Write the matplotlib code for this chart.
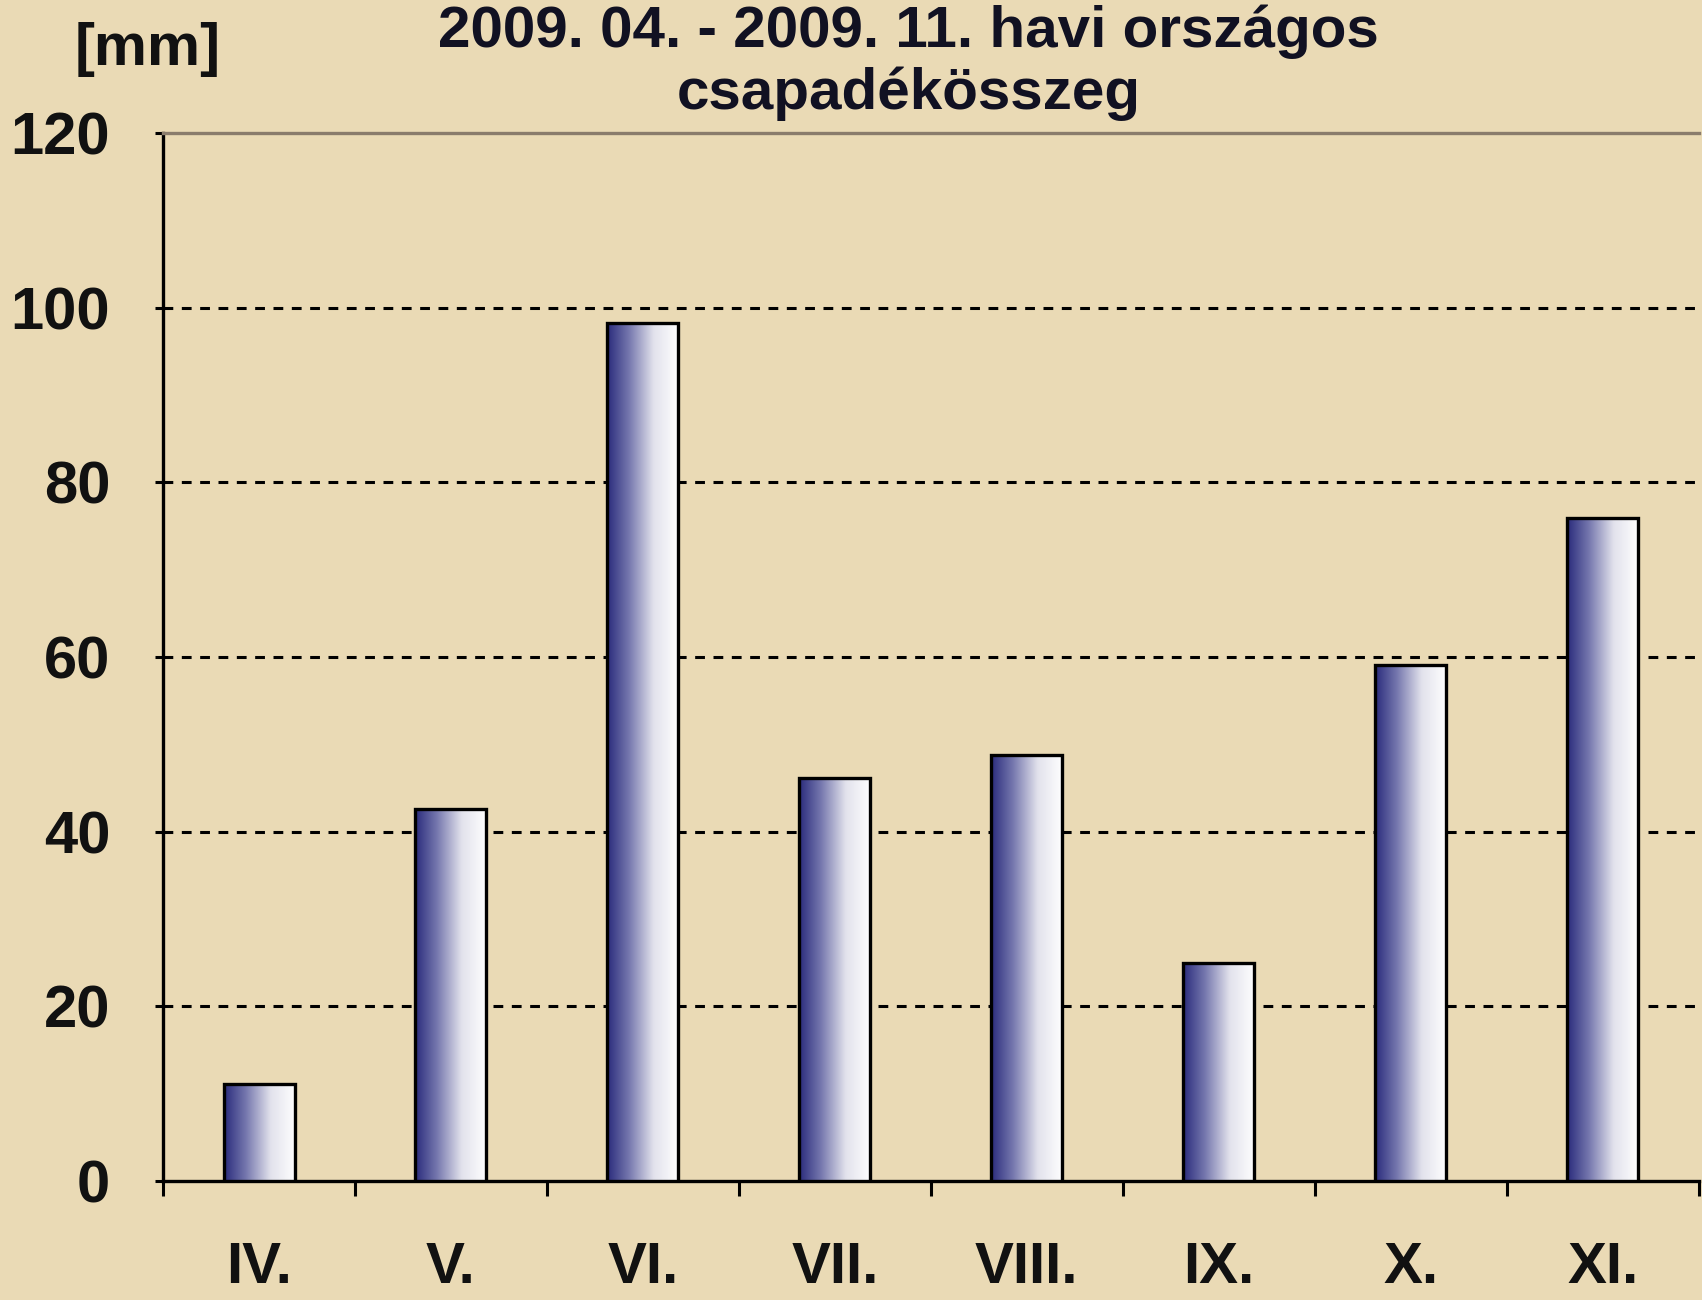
import numpy as np
import matplotlib
matplotlib.use('Agg')
import matplotlib.pyplot as plt
from matplotlib.colors import LinearSegmentedColormap

months = ['IV.', 'V.', 'VI.', 'VII.', 'VIII.', 'IX.', 'X.', 'XI.']
rain_mm = [11.1, 42.6, 98.3, 46.2, 48.8, 25.0, 59.1, 75.9]
y_ticks = [0, 20, 40, 60, 80, 100, 120]

plt.rcParams['font.family'] = ['Liberation Sans', 'DejaVu Sans']
plt.rcParams['font.weight'] = 'bold'

bg = '#eadab5'
fig = plt.figure(figsize=(17.02, 13), dpi=100, facecolor=bg)
ax = fig.add_axes([0.0958, 0.0915, 0.9022, 0.8062])
ax.set_facecolor(bg)

cmap = LinearSegmentedColormap.from_list(
    'bar', [(0, '#2a2b7c'), (0.3, '#7476ad'), (0.65, '#e2e2ec'), (1, '#ffffff')])
grad = np.linspace(0, 1, 256).reshape(1, -1)

x = np.arange(len(months))
w = 0.37
bars = ax.bar(x, rain_mm, width=w, facecolor='none', edgecolor='black',
              linewidth=2.4, zorder=4)
for b in bars:
    x0, y0 = b.get_x(), b.get_y()
    im = ax.imshow(grad, cmap=cmap, aspect='auto', zorder=3,
                   extent=[x0, x0 + b.get_width(), y0, y0 + b.get_height()])
    im.set_clip_path(b)

ax.set_xlim(-0.5, len(months) - 0.5)
ax.set_ylim(0, 120)

# dashed grid
for v in y_ticks[1:-1]:
    ax.axhline(v, color='black', linewidth=2.2, linestyle=(0, (3.2, 2.8)), zorder=2)

ax.set_yticks(y_ticks)
ax.set_yticklabels([str(v) for v in y_ticks], fontsize=43, fontweight='bold',
                   color='#111111')
ax.tick_params(axis='y', direction='out', length=6, width=2.2, pad=32)

ax.set_xticks(x)
ax.set_xticklabels(months, fontsize=42, fontweight='bold', color='#111111')
ax.set_xticks(np.arange(len(months) + 1) - 0.5, minor=True)
ax.tick_params(axis='x', which='major', length=0, pad=43)
ax.tick_params(axis='x', which='minor', direction='out', length=11, width=2.2)

for s in ['left', 'bottom']:
    ax.spines[s].set_linewidth(2.4)
    ax.spines[s].set_color('black')
ax.spines['top'].set_color('#8a7c6c')
ax.spines['top'].set_linewidth(2.4)
ax.spines['right'].set_visible(False)

fig.text(0.534, 0.964, '2009. 04. - 2009. 11. havi országos', ha='center',
         va='baseline', fontsize=42, fontweight='bold', color='#111122')
fig.text(0.534, 0.916, 'csapadékösszeg', ha='center', va='baseline',
         fontsize=42, fontweight='bold', color='#111122')
fig.text(0.087, 0.95, '[mm]', ha='center', va='baseline', fontsize=43,
         fontweight='bold', color='#111111')

fig.savefig('out.png', dpi=100, facecolor=bg)
